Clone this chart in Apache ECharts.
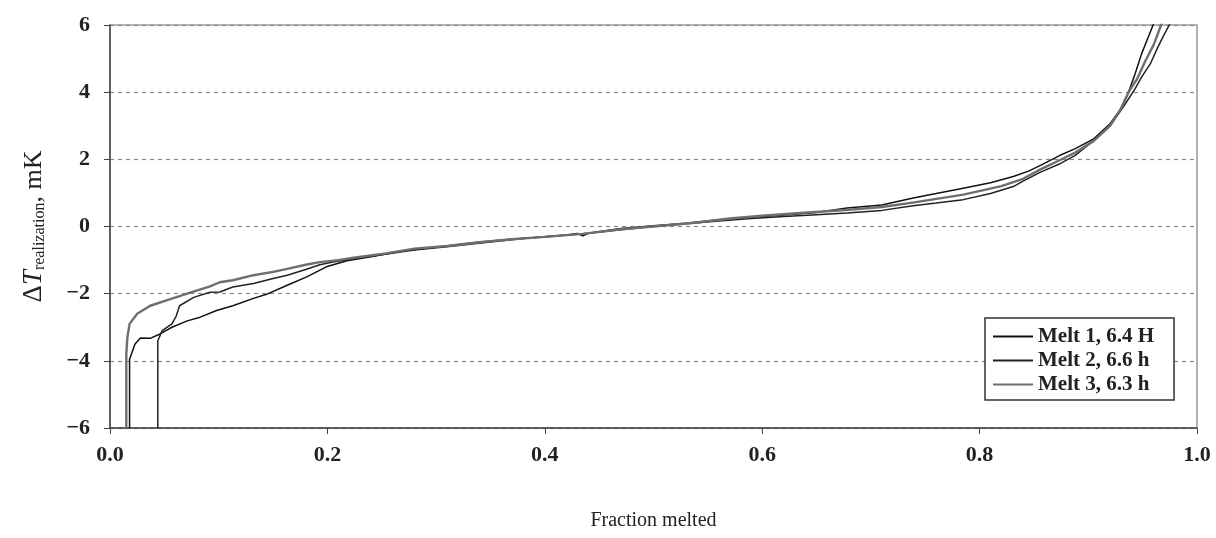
<!DOCTYPE html>
<html>
<head>
<meta charset="utf-8">
<script src="https://cdn.jsdelivr.net/npm/echarts@6/dist/echarts.min.js"></script>
<style>
html,body{margin:0;padding:0;background:#fff;}
#c{width:1216px;height:538px;}
</style>
</head>
<body>
<div id="c"></div>
<script>
// Tick labels
const xTicks = [0, 0.2, 0.4, 0.6, 0.8, 1.0];
const yTicks = [-6, -4, -2, 0, 2, 4, 6];
const seriesNames = ["Melt 1, 6.4 H", "Melt 2, 6.6 h", "Melt 3, 6.3 h"];

// Melt 1: [fraction melted, ΔT (mK)]
const melt1 = [[0.018,-6],[0.018,-3.95],[0.023,-3.5],[0.028,-3.32],[0.037,-3.33],[0.046,-3.2],[0.057,-3.0],[0.071,-2.81],[0.083,-2.7],[0.098,-2.5],[0.113,-2.36],[0.132,-2.14],[0.144,-2.02],[0.163,-1.75],[0.181,-1.5],[0.199,-1.2],[0.218,-1.02],[0.24,-0.9],[0.27,-0.72],[0.3,-0.62],[0.33,-0.5],[0.36,-0.4],[0.39,-0.33],[0.42,-0.25],[0.43,-0.21],[0.435,-0.28],[0.44,-0.2],[0.47,-0.06],[0.5,0.02],[0.53,0.1],[0.56,0.2],[0.6,0.3],[0.62,0.34],[0.65,0.42],[0.678,0.55],[0.71,0.64],[0.739,0.85],[0.76,0.98],[0.785,1.14],[0.81,1.3],[0.831,1.49],[0.845,1.65],[0.856,1.82],[0.874,2.12],[0.888,2.32],[0.905,2.61],[0.92,3.06],[0.929,3.46],[0.937,4.0],[0.943,4.54],[0.949,5.14],[0.955,5.63],[0.96,6.03],[0.962,6.3]];

// Melt 2
const melt2 = [[0.044,-6],[0.044,-3.4],[0.048,-3.1],[0.057,-2.9],[0.061,-2.66],[0.064,-2.36],[0.077,-2.11],[0.092,-1.96],[0.101,-1.95],[0.113,-1.8],[0.132,-1.7],[0.15,-1.55],[0.163,-1.45],[0.18,-1.28],[0.193,-1.14],[0.205,-1.06],[0.22,-0.98],[0.25,-0.84],[0.28,-0.7],[0.31,-0.6],[0.35,-0.46],[0.38,-0.36],[0.41,-0.28],[0.44,-0.2],[0.47,-0.1],[0.5,0.0],[0.53,0.08],[0.56,0.16],[0.59,0.24],[0.62,0.3],[0.65,0.35],[0.678,0.4],[0.71,0.48],[0.739,0.62],[0.76,0.7],[0.785,0.8],[0.81,0.98],[0.831,1.19],[0.84,1.35],[0.856,1.62],[0.874,1.87],[0.888,2.12],[0.905,2.56],[0.92,3.0],[0.932,3.55],[0.943,4.1],[0.949,4.45],[0.957,4.84],[0.964,5.34],[0.97,5.73],[0.975,6.03],[0.977,6.3]];

// Melt 3
const melt3 = [[0.015,-6],[0.015,-3.8],[0.016,-3.3],[0.018,-2.9],[0.025,-2.6],[0.037,-2.36],[0.052,-2.2],[0.071,-2.0],[0.092,-1.78],[0.101,-1.66],[0.113,-1.6],[0.132,-1.45],[0.15,-1.35],[0.163,-1.26],[0.18,-1.14],[0.193,-1.06],[0.21,-1.0],[0.224,-0.93],[0.254,-0.8],[0.28,-0.66],[0.31,-0.58],[0.34,-0.47],[0.37,-0.38],[0.40,-0.31],[0.435,-0.22],[0.47,-0.08],[0.51,0.03],[0.54,0.12],[0.57,0.24],[0.60,0.32],[0.635,0.4],[0.68,0.5],[0.71,0.58],[0.74,0.72],[0.785,0.95],[0.82,1.2],[0.84,1.42],[0.856,1.7],[0.874,1.98],[0.888,2.2],[0.905,2.55],[0.92,3.0],[0.93,3.5],[0.937,4.0],[0.945,4.4],[0.952,4.9],[0.96,5.4],[0.967,6.0],[0.97,6.3]];

const FONT = "'Liberation Serif','DejaVu Serif',serif";
const chart = echarts.init(document.getElementById('c'), null, {renderer:'canvas'});
const mkSeries = (name, data, color, width) => ({
  name, type:'line', data, showSymbol:false, symbol:'none', smooth:false,
  lineStyle:{color, width}, itemStyle:{color}, clip:true, animation:false
});
chart.setOption({
  animation:false,
  backgroundColor:'#fff',
  grid:{left:110, right:19, top:25, bottom:110, show:true, borderColor:'#999', borderWidth:1.5},
  legend:{
    orient:'vertical', left:985, top:318,
    backgroundColor:'#fff', borderColor:'#333', borderWidth:1.5,
    padding:[8,20,5,8], itemGap:3, itemWidth:40, itemHeight:14,
    textStyle:{fontFamily:FONT, fontSize:21, fontWeight:'bold', color:'#222'},
    data:seriesNames.map(n=>({name:n, icon:'path://M0,6 L40,6 L40,8 L0,8 Z'}))
  },
  xAxis:{
    type:'value', min:xTicks[0], max:xTicks[xTicks.length-1], interval:0.2,
    name:'Fraction melted', nameLocation:'middle', nameGap:83,
    nameTextStyle:{fontFamily:FONT, fontSize:20, color:'#222'},
    axisLine:{show:true, onZero:false, lineStyle:{color:'#444', width:1.5}},
    axisTick:{show:true, length:6, lineStyle:{color:'#444'}},
    splitLine:{show:false},
    axisLabel:{fontFamily:FONT, fontSize:22, fontWeight:'bold', color:'#222', margin:16,
      formatter:v=>v.toFixed(1)}
  },
  yAxis:{
    type:'value', min:yTicks[0], max:yTicks[yTicks.length-1], interval:2,
    name:'{d|Δ}{t|T}{s|realization}{u|, mK}', nameLocation:'middle', nameGap:62, nameRotate:90,
    nameTextStyle:{fontFamily:FONT, color:'#222',
      rich:{
        d:{fontFamily:FONT, fontSize:27, color:'#222'},
        t:{fontFamily:FONT, fontSize:27, fontStyle:'italic', color:'#222'},
        s:{fontFamily:FONT, fontSize:16, color:'#222', verticalAlign:'bottom', padding:[12,0,0,0]},
        u:{fontFamily:FONT, fontSize:26, color:'#222'}
      }},
    axisLine:{show:true, onZero:false, lineStyle:{color:'#444', width:1.5}},
    axisTick:{show:true, length:6, lineStyle:{color:'#444'}},
    splitLine:{show:true, lineStyle:{color:'#888', type:[4,4], width:1.2}},
    axisLabel:{fontFamily:FONT, fontSize:22, fontWeight:'bold', color:'#222', margin:20,
      formatter:v=>(v<0?'\u2212'+Math.abs(v):String(v))}
  },
  series:[
    mkSeries(seriesNames[0], melt1, '#111', 1.5),
    mkSeries(seriesNames[1], melt2, '#222', 1.5),
    mkSeries(seriesNames[2], melt3, '#6e6e6e', 2.4)
  ]
});
</script>
</body>
</html>
